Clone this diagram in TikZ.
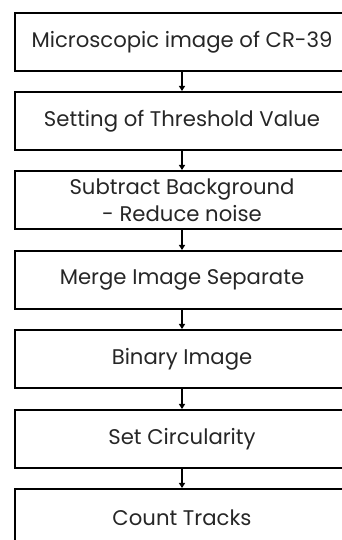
\documentclass[tikz,border=0pt]{standalone}
\usepackage{fontspec}
\setmainfont{Poppins}
\usetikzlibrary{arrows.meta}
\begin{document}
\begin{tikzpicture}[x=1pt,y=1pt,
  stepbox/.style={draw=black, line width=2pt, minimum width=334pt, minimum height=58pt, inner sep=0pt, align=center, text=black!85, font=\fontsize{21.2}{27}\selectfont},
  flow/.style={line width=2pt, -{Triangle[width=6pt,length=5pt]}}]
\useasboundingbox (0,0) rectangle (342,540);
\node[stepbox] (b1) at (182,498) {Microscopic image of CR-39};
\node[stepbox] (b2) at (182,419) {Setting of Threshold Value};
\node[stepbox] (b3) at (182,340) {Subtract Background\\- Reduce noise};
\node[stepbox] (b4) at (182,260) {Merge Image Separate};
\node[stepbox] (b5) at (182,181) {Binary Image};
\node[stepbox] (b6) at (182,101) {Set Circularity};
\node[stepbox] (b7) at (182,22) {Count Tracks};
\draw[flow] (b1) -- (b2);
\draw[flow] (b2) -- (b3);
\draw[flow] (b3) -- (b4);
\draw[flow] (b4) -- (b5);
\draw[flow] (b5) -- (b6);
\draw[flow] (b6) -- (b7);
\end{tikzpicture}
\end{document}
